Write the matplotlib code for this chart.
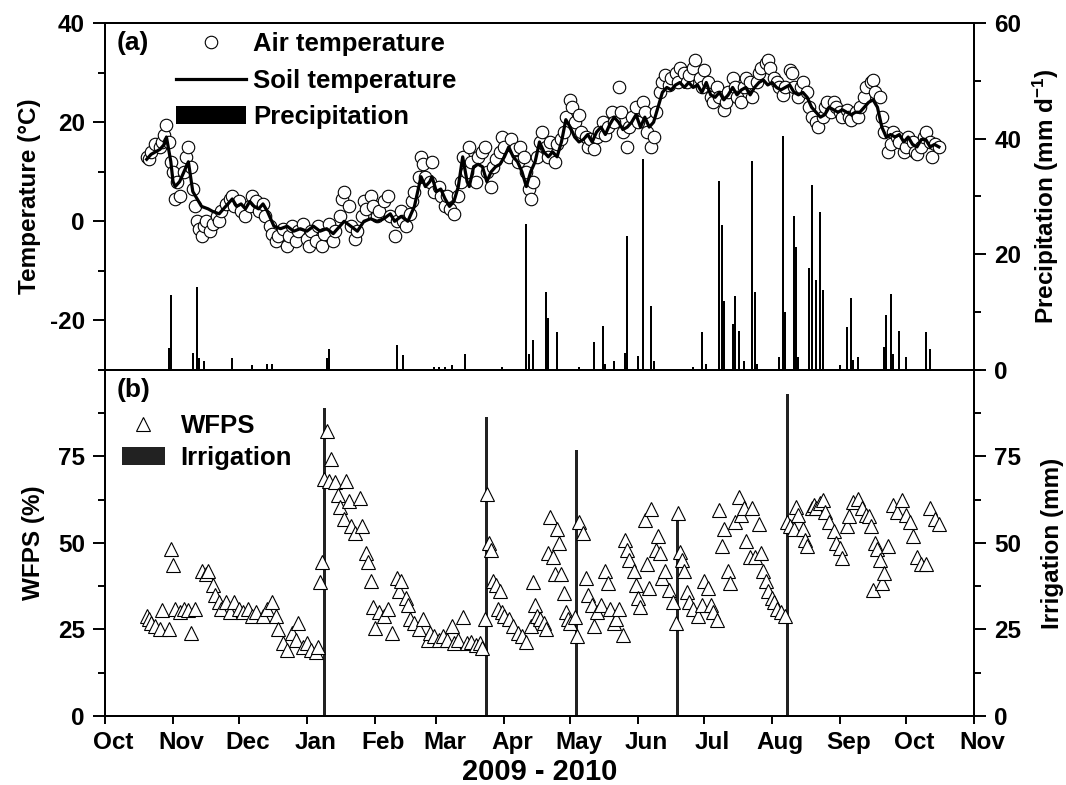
import numpy as np
import matplotlib
matplotlib.use('Agg')
import matplotlib.pyplot as plt
import matplotlib.dates as mdates
import matplotlib.transforms as mtransforms
from matplotlib.ticker import MultipleLocator

plt.rcParams['font.family'] = 'Liberation Sans'
plt.rcParams['font.weight'] = 'bold'
plt.rcParams['font.size'] = 17.5
plt.rcParams['axes.labelweight'] = 'bold'
plt.rcParams['axes.unicode_minus'] = False
plt.rcParams['mathtext.fontset'] = 'custom'
plt.rcParams['mathtext.rm'] = 'Liberation Sans:bold'
plt.rcParams['mathtext.default'] = 'rm'

start = np.datetime64('2009-10-01')

# days counted from 1 Oct 2009
air_day = [19, 20, 21, 23, 25, 26, 27, 28, 29, 30,
           31, 32, 33, 34, 36, 37, 38, 39, 40, 41,
           42, 43, 44, 45, 46, 48, 49, 51, 52, 53,
           55, 57, 58, 59, 61, 62, 64, 66, 67, 69,
           70, 72, 73, 75, 76, 78, 79, 81, 83, 84,
           85, 87, 88, 90, 92, 93, 94, 96, 97, 99,
           100, 102, 104, 105, 107, 108, 109, 111, 112, 114,
           115, 117, 118, 119, 121, 122, 124, 125, 127, 129,
           130, 132, 133, 135, 136, 137, 139, 140, 141, 143,
           144, 145, 146, 148, 149, 150, 152, 153, 155, 156,
           157, 159, 161, 162, 163, 165, 166, 167, 169, 170,
           172, 173, 174, 176, 177, 178, 180, 181, 182, 184,
           185, 187, 188, 189, 191, 192, 193, 194, 195, 197,
           198, 199, 201, 202, 203, 205, 206, 208, 209, 210,
           212, 213, 214, 216, 217, 219, 220, 221, 223, 224,
           225, 227, 228, 229, 231, 232, 234, 235, 236, 238,
           239, 240, 242, 243, 245, 246, 247, 249, 250, 251,
           253, 254, 255, 257, 258, 260, 261, 262, 264, 265,
           266, 268, 269, 271, 272, 273, 275, 276, 277, 279,
           280, 282, 283, 284, 286, 287, 288, 290, 291, 292,
           294, 295, 297, 298, 299, 301, 302, 303, 305, 306,
           307, 309, 310, 312, 313, 314, 316, 317, 318, 320,
           321, 322, 324, 325, 327, 328, 329, 331, 332, 333,
           335, 336, 338, 339, 340, 342, 343, 344, 346, 347,
           349, 350, 351, 353, 354, 355, 357, 358, 359, 361,
           362, 364, 365, 366, 368, 369, 370, 372, 373, 374,
           376, 377, 378, 380]
air_temp = [13, 12.5, 14, 15.5, 15, 16, 17.5, 19.5, 16, 12,
            10, 4.5, 8, 5, 10, 13, 15, 11, 6.5, 3,
            0, -1.5, -3, -1, 0, -2, -0.5, 1, 0, 2,
            3.5, 4.5, 5, 3, 4, 2, 1, 3, 5, 4,
            2, 3.5, 1, -1, -2.5, -4, -3, -1.5, -5, -3,
            -1, -4, -2, -0.5, -3.5, -5, -2, -4, -1, -5,
            -2.5, -0.5, -4, -2, 1, 4.5, 6, 3, -1, -3.5,
            -2, 1, 4, 2.5, 5, 3, 1, 2, 4, 5,
            1, -3, 0, 2, 0, -1, 1.5, 4, 6, 9,
            13, 11.5, 9, 8, 12, 6, 7, 5, 3, 5,
            2.5, 1.5, 5, 8, 13, 10, 15, 12, 8, 13,
            14, 15, 10, 7, 11, 12.5, 14, 17, 15, 13,
            16.5, 14.5, 12, 15, 13, 10, 6.5, 4.5, 8, 13,
            16, 18, 15, 13, 16, 12, 15.5, 16.5, 18, 21,
            24.5, 23, 20, 21.5, 18, 17, 15, 16.5, 14.5, 17,
            18, 20, 17.5, 19, 22, 20, 27, 22, 18, 15,
            19, 21, 23, 20, 24, 22, 18, 15, 17, 22,
            26, 28, 29.5, 27.5, 29, 30, 28, 31, 30, 28,
            29.5, 31, 32.5, 29, 27, 30.5, 28, 25, 24, 27,
            25, 22.5, 24, 26, 29, 27, 25, 24, 27, 29,
            28, 25, 28, 30, 31, 32, 32.5, 31, 29, 28,
            27, 25.5, 27, 30.5, 30, 27, 25, 27, 28, 26,
            23, 21, 20, 19, 21, 23, 24, 22, 24, 23,
            22, 21, 22.5, 21, 20.5, 22, 21, 23, 25, 27,
            28, 28.5, 26, 25, 21, 18, 14, 15.5, 18, 17,
            16, 14, 15, 17, 16, 14, 13.5, 15, 17, 18,
            16, 13, 15.5, 15]

soil_day = [19, 21, 23, 25, 27, 28, 30, 31, 32, 34,
            36, 38, 39, 40, 42, 44, 47, 49, 52, 55,
            58, 60, 62, 64, 66, 68, 70, 72, 74, 77,
            80, 83, 86, 89, 92, 95, 98, 101, 104, 107,
            109, 112, 115, 118, 121, 124, 127, 130, 132, 135,
            138, 141, 143, 144, 146, 148, 149, 151, 153, 155,
            157, 159, 161, 163, 165, 166, 168, 170, 172, 174,
            176, 178, 180, 182, 184, 186, 188, 190, 192, 194,
            196, 198, 200, 202, 204, 206, 208, 210, 212, 214,
            216, 218, 220, 222, 224, 226, 228, 230, 232, 234,
            236, 238, 240, 242, 244, 246, 248, 250, 252, 254,
            256, 258, 260, 262, 264, 266, 268, 270, 272, 274,
            276, 278, 280, 282, 284, 286, 288, 290, 292, 294,
            296, 298, 300, 302, 304, 306, 308, 310, 312, 314,
            316, 318, 320, 322, 324, 326, 328, 330, 332, 334,
            336, 338, 340, 342, 344, 346, 348, 350, 352, 354,
            356, 358, 360, 362, 364, 366, 368, 370, 372, 374,
            376, 378, 380]
soil_temp = [12.5, 13.5, 14, 14.5, 15.5, 17, 12, 8, 7, 8,
             10, 12, 9, 6, 4.5, 3, 2.5, 2, 1.5, 3,
             4.5, 3, 3.5, 2.5, 4, 3, 2.5, 3.5, 2, -1,
             -1.5, -1, -2, -1.5, -2, -1, -2, -1.5, -2.5, -1,
             0, -1, -2, 0, 0.5, 0, 0.5, 1.5, 0, 1,
             0, 3, 7, 9, 7, 8, 9, 6, 6.5, 4.5,
             3, 4, 7, 13, 8, 7, 11, 11.5, 11, 8,
             10, 11, 11.5, 13, 15, 13, 12, 10, 7, 10,
             12, 16, 14, 13, 14, 13, 16, 20.5, 19, 17,
             16, 16.5, 17.5, 16, 18, 19, 17.5, 19.5, 21, 20,
             18.5, 19, 20, 21.5, 19, 21, 19, 20, 23, 26,
             27, 26.5, 27.5, 28, 27, 28, 27, 27.5, 26, 28,
             25.5, 25, 26, 24.5, 25.5, 27, 25.5, 26.5, 27, 25.5,
             27, 28, 28.5, 27.5, 28, 27, 26.5, 27, 27.5, 26,
             25.5, 26, 25, 23, 22, 21, 21.5, 23, 22.5, 22,
             22.5, 22, 21.5, 22, 22, 23, 24, 24.5, 23, 19,
             17, 17.5, 17, 17.5, 16, 17, 15.5, 15, 16.5, 16.5,
             15, 15.5, 15]

rain_day = [29, 30, 40, 42, 43, 45, 58, 67, 74, 76,
            101, 102, 133, 136, 150, 152, 155, 158, 164, 181,
            192, 193, 195, 201, 202, 206, 216, 223, 227, 228,
            232, 237, 238, 243, 245, 249, 250, 268, 272, 274,
            280, 281, 282, 286, 287, 289, 291, 295, 296, 297,
            307, 309, 310, 314, 315, 316, 321, 322, 324, 326,
            327, 335, 338, 340, 341, 343, 355, 356, 358, 359,
            362, 365, 374, 376]
rain_mm = [3.8, 13, 3, 14.4, 2, 1.5, 2, 0.8, 1, 1,
           2, 3.7, 4.3, 2.6, 0.5, 0.5, 0.5, 0.8, 2.7, 0.5,
           25.2, 2.7, 5.1, 13.5, 9, 6.6, 0.5, 4.8, 7.6, 1,
           1.5, 3, 23.2, 2.5, 36.5, 11, 1.5, 0.5, 6.6, 1,
           32.6, 25, 12, 8, 12.8, 6.8, 1.5, 36.2, 13.5, 1,
           2.2, 40.4, 10, 26.7, 21.3, 2.3, 17.7, 32, 15.6, 27.4,
           13.8, 0.8, 7.5, 12.4, 1.7, 2.3, 4, 9.5, 13.2, 2.7,
           6.8, 2.3, 6.5, 3.7]

wfps_day = [19, 20, 21, 23, 25, 26, 29, 30, 31, 32,
            34, 36, 38, 39, 41, 44, 46, 47, 49, 50,
            52, 53, 55, 57, 59, 61, 63, 65, 67, 69,
            72, 74, 76, 78, 79, 81, 83, 85, 87, 88,
            90, 92, 94, 96, 97, 98, 99, 100, 101, 102,
            103, 105, 106, 107, 109, 110, 111, 112, 114, 116,
            117, 119, 120, 121, 122, 123, 125, 127, 129, 131,
            133, 134, 135, 137, 138, 139, 141, 143, 145, 147,
            148, 150, 152, 154, 156, 158, 159, 161, 163, 165,
            167, 169, 171, 172, 173, 174, 175, 176, 177, 178,
            179, 180, 181, 182, 184, 186, 188, 190, 192, 194,
            195, 196, 197, 198, 200, 201, 202, 203, 204, 205,
            206, 207, 208, 209, 210, 211, 212, 214, 215, 216,
            218, 219, 220, 222, 223, 224, 226, 228, 229, 230,
            232, 233, 234, 236, 237, 238, 239, 241, 242, 243,
            244, 246, 247, 248, 249, 251, 252, 253, 254, 255,
            257, 259, 260, 261, 262, 263, 264, 265, 266, 268,
            270, 272, 273, 275, 276, 277, 279, 280, 281, 282,
            284, 285, 287, 289, 290, 291, 292, 294, 295, 296,
            298, 299, 300, 301, 302, 304, 305, 306, 308, 310,
            311, 312, 314, 315, 316, 318, 319, 320, 322, 323,
            324, 326, 327, 328, 330, 332, 333, 335, 336, 338,
            339, 341, 343, 345, 347, 348, 349, 350, 351, 352,
            353, 354, 355, 357, 359, 361, 363, 365, 367, 368,
            370, 372, 374, 376, 378, 380]
wfps = [29, 28, 27, 26, 25, 30.5, 25, 48.4, 43.5, 31,
        30, 31, 30.5, 24, 31, 42, 41, 42, 38, 35,
        33, 31, 33, 30, 33, 31, 30, 31, 29, 30,
        29, 31, 33, 29, 25, 21, 19, 24, 22, 27,
        20, 21, 19, 18.5, 20, 38.6, 44.4, 68.6, 82.5, 68,
        74.4, 67.5, 64, 60.5, 57, 68, 62, 55, 53, 63,
        55, 47, 44.5, 39, 31.5, 25.4, 30, 29, 31, 24,
        40, 36, 39, 34, 32, 28, 27, 25, 28, 22,
        24, 23, 22, 23, 22, 26, 21, 22, 28.5, 21,
        21.5, 20.5, 21, 19.6, 28, 64.3, 50, 48, 39, 38,
        31, 36, 30, 29, 28, 26, 24, 23, 21.5, 26,
        38.6, 32, 29, 28, 27, 25, 47, 57.4, 46, 41,
        54, 50, 41, 35.5, 30, 28, 27, 28.5, 23, 56,
        53, 40, 35, 32, 26, 30, 32, 42, 38.5, 31,
        27, 28, 31, 23.4, 51, 48, 45, 42, 38, 34,
        31.5, 56.5, 44, 37, 59.7, 48, 52, 47, 40, 42,
        36.5, 33, 27, 58.8, 47.5, 45, 42, 35.7, 33, 31,
        29, 32, 39, 37, 32, 30, 27.7, 59.4, 49, 54,
        42, 38.5, 56, 63.4, 58, 60, 50.7, 46, 60, 46,
        55.6, 47, 42, 39, 36, 34, 33, 31, 30, 29,
        56, 55, 54, 60.3, 58, 54, 51, 49, 60, 61,
        60, 61.5, 62.4, 59, 56, 53.6, 50, 48.5, 45.6, 55,
        57.7, 61.7, 62.6, 60, 58, 57.7, 55, 36.3, 50, 48.3,
        45, 38.3, 41.4, 49, 61, 59, 62.3, 58, 56, 52,
        46, 44, 44, 60, 57, 55.6]

irr_day = [100, 174, 215, 261, 311]
irr_mm = [89, 86.5, 77, 57, 93]


def to_dates(days):
    return start + np.array(days, dtype='timedelta64[D]')


fig = plt.figure(figsize=(10.66, 7.85), dpi=100)
ax1 = fig.add_axes([0.0985, 0.5287, 0.8152, 0.442])
ax2 = fig.add_axes([0.0985, 0.0879, 0.8152, 0.4408], sharex=ax1)

# (a) temperatures and precipitation
ax1r = ax1.twinx()
ax1.set_zorder(ax1r.get_zorder() + 1)
ax1.patch.set_visible(False)
bars1 = ax1r.bar(to_dates(rain_day), rain_mm, width=0.9, color='black', linewidth=0)
h_air, = ax1.plot(to_dates(air_day), air_temp, 'o', mfc='white', mec='black', ms=9, mew=0.8)
h_soil, = ax1.plot(to_dates(soil_day), soil_temp, '-', color='black', lw=2.3)

ax1.set_ylim(-30, 40)
ax1.set_yticks([-20, 0, 20, 40])
ax1.yaxis.set_minor_locator(MultipleLocator(10))
ax1r.set_ylim(0, 60)
ax1r.set_yticks([0, 20, 40, 60])
ax1r.yaxis.set_minor_locator(MultipleLocator(10))
ax1.set_ylabel('Temperature (\u00b0C)', labelpad=6)
ax1r.set_ylabel(r'Precipitation (mm d$^{-1}$)', labelpad=7)
ax1.tick_params(axis='x', which='both', bottom=False, labelbottom=False)
ax1.text(0.013, 0.942, '(a)', transform=ax1.transAxes, va='center', ha='left', fontsize=19)
ax1.legend([h_air, h_soil, bars1], ['Air temperature', 'Soil temperature', 'Precipitation'],
           loc='upper left', bbox_to_anchor=(0.082, 0.975), frameon=False, borderaxespad=0,
           borderpad=0, handlelength=2.7, handletextpad=0.3, labelspacing=0.5,
           fontsize=18.5)

# (b) WFPS and irrigation
ax2r = ax2.twinx()
ax2.set_zorder(ax2r.get_zorder() + 1)
ax2.patch.set_visible(False)
bars2 = ax2r.bar(to_dates(irr_day), irr_mm, width=1.3, color='#222222', linewidth=0)
h_wfps, = ax2.plot(to_dates(wfps_day), wfps, '^', mfc='white', mec='black', ms=9.5, mew=0.8)

ax2.set_ylim(0, 100)
ax2.set_yticks([0, 25, 50, 75])
ax2.yaxis.set_minor_locator(MultipleLocator(12.5))
ax2r.set_ylim(0, 100)
ax2r.set_yticks([0, 25, 50, 75])
ax2r.yaxis.set_minor_locator(MultipleLocator(12.5))
ax2.set_ylabel('WFPS (%)', labelpad=9)
ax2r.set_ylabel('Irrigation (mm)', labelpad=14)
ax2.text(0.013, 0.942, '(b)', transform=ax2.transAxes, va='center', ha='left', fontsize=19)
ax2.legend([h_wfps, bars2], ['WFPS', 'Irrigation'],
           loc='upper left', bbox_to_anchor=(0.019, 0.872), frameon=False, borderaxespad=0,
           borderpad=0, handlelength=1.7, handletextpad=0.6, labelspacing=0.3,
           fontsize=18.5)

ax2.set_xlim(np.datetime64('2009-10-01'), np.datetime64('2010-11-01'))
ax2.xaxis.set_major_locator(mdates.MonthLocator())
ax2.xaxis.set_major_formatter(mdates.DateFormatter('%b'))
ax2.set_xlabel('2009 - 2010', labelpad=3, fontsize=21)

for ax in (ax1, ax1r, ax2, ax2r):
    for s in ax.spines.values():
        s.set_linewidth(1.4)
    ax.tick_params(which='major', direction='out', length=8.5, width=1.4, pad=6)
    ax.tick_params(which='minor', direction='out', length=5, width=1.4)
ax2.tick_params(axis='x', which='major', length=6, pad=5)

# month labels sit a little right of the month-start ticks
shift = mtransforms.ScaledTranslation(6 / 72, 0, fig.dpi_scale_trans)
for lab in ax2.get_xticklabels():
    lab.set_transform(lab.get_transform() + shift)

fig.savefig('out.png', dpi=100)
